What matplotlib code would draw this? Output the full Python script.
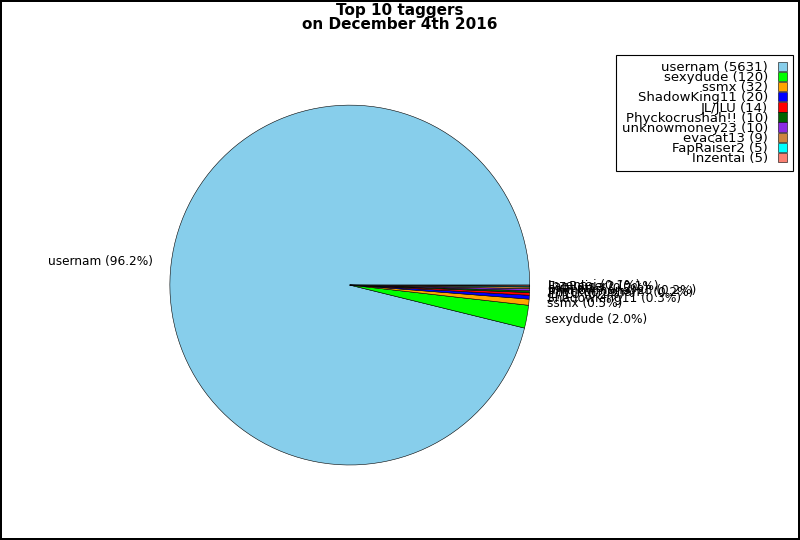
import matplotlib
matplotlib.use("Agg")
import matplotlib.pyplot as plt

names = ["usernam", "sexydude", "ssmx", "ShadowKing11", "JL/JLU",
         "Phyckocrushah!!", "unknowmoney23", "evacat13", "FapRaiser2", "Inzentai"]
counts = [5631, 120, 32, 20, 14, 10, 10, 9, 5, 5]
colours = ["#87ceeb", "#00ff00", "#ffa500", "#0000ff", "#ff0000",
           "#006400", "#8a2be2", "#cd853f", "#00ffff", "#fa8072"]

total = sum(counts)
pie_labels = ["%s (%.1f%%)" % (n, 100.0 * c / total) for n, c in zip(names, counts)]
legend_labels = ["%s (%d)" % (n, c) for n, c in zip(names, counts)]

fig = plt.figure(figsize=(8, 5.4), dpi=100)
fig.patch.set_edgecolor("black")
fig.patch.set_linewidth(1.5)

ax = fig.add_axes([0.156, 0.0556, 0.5625, 0.833])
wedges, texts = ax.pie(counts, labels=pie_labels, colors=colours, startangle=0,
                       wedgeprops=dict(edgecolor="black", linewidth=0.4),
                       textprops=dict(fontsize=8.7))
ax.set_aspect("equal")

fig.suptitle("Top 10 taggers\non December 4th 2016", fontsize=11, fontweight="bold",
             y=0.995, linespacing=0.95)

leg = fig.legend(wedges, legend_labels, loc="upper right", bbox_to_anchor=(0.9995, 0.91),
                 markerfirst=False, fancybox=False, fontsize=9.5, edgecolor="black",
                 framealpha=1, handlelength=0.7, handleheight=0.7, labelspacing=-0.22,
                 handletextpad=0.75, borderpad=0.45)
leg.get_frame().set_linewidth(0.8)
for t in leg.get_texts():
    t.set_ha("right")

fig.savefig("out.png", dpi=100)
